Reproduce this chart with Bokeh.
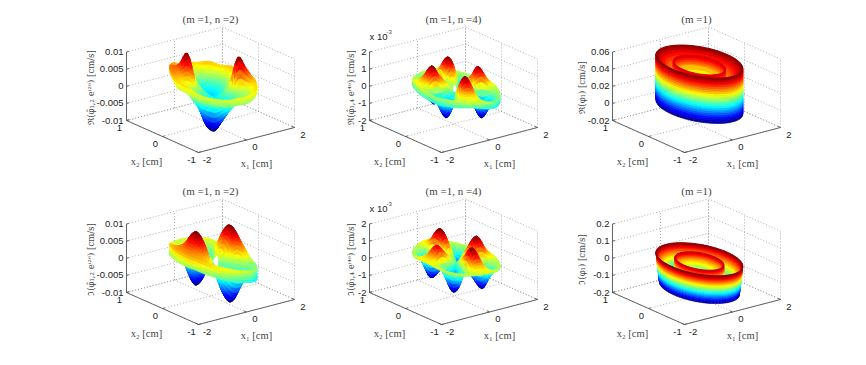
import numpy as np
from bokeh.plotting import figure
from bokeh.models import Range1d, ColumnDataSource
from bokeh.core.properties import value
from bokeh.embed import file_html
from bokeh.resources import INLINE

# ---------- data ----------
THETA_DEG = list(range(0, 360, 15))
X1_TICKS = [-2, 0, 2]
X2_TICKS = [-1, 0, 1]

TITLES = ["(m =1, n =2)", "(m =1, n =4)", "(m =1)"] * 1
Y_LABELS = [
    ["ℜ(φ̂₁,₂ eⁱ²ᶿ) [cm/s]", "ℜ(φ̂₁,₄ eⁱ⁴ᶿ) [cm/s]", "ℜ(φ₁) [cm/s]"],
    ["ℑ(φ̂₁,₂ eⁱ²ᶿ) [cm/s]", "ℑ(φ̂₁,₄ eⁱ⁴ᶿ) [cm/s]", "ℑ(φ₁) [cm/s]"],
]
Z_TICKS = [
    [[-0.01, -0.005, 0, 0.005, 0.01], [-2, -1, 0, 1, 2], [-0.02, 0, 0.02, 0.04, 0.06]],
    [[-0.01, -0.005, 0, 0.005, 0.01], [-2, -1, 0, 1, 2], [-0.2, -0.1, 0, 0.1, 0.2]],
]
Z_LABELS = [
    [["-0.01", "-0.005", "0", "0.005", "0.01"], ["-2", "-1", "0", "1", "2"], ["-0.02", "0", "0.02", "0.04", "0.06"]],
    [["-0.01", "-0.005", "0", "0.005", "0.01"], ["-2", "-1", "0", "1", "2"], ["-0.2", "-0.1", "0", "0.1", "0.2"]],
]

# real part, n=2 (1e-3 cm/s): radius rows, 24 angles each
R_12 = [0.02, 0.4, 0.6, 0.8, 1.0, 1.0]
RE_12 = [
    [-3, -3, -3, -3, -3, -3, -2.5, -2.5, -2.5, -2.5, -2.5, -3, -4, -4.5, -4.5, -4.5, -4, -4, -3.5, -3, -3, -3, -3, -3],
    [-1, -2.5, -3, -3.5, -3, -2.5, -2, -1, 0, 1.5, 0, -2, -6, -9, -10, -10, -8, -6, -4, -3, -2, -1, 1, 0],
    [1, -1, -2, -2.5, -2.5, -2, -1, 0, 3, 9.5, 5, 0, -3, -6, -8, -8, -6, -4, -2, -1, 0, 2, 9.5, 3],
    [2, 1, 0, 0, 0, 1, 1.5, 2, 3, 6, 4, 1.5, -1, -2, -2, -2, -1, -1, 0, 0, .5, 2, 6.5, 3.5],
    [3, 3.5, 3, 3.5, 3, 3, 3, 4, 4.5, 5, 4.5, 3, 3, 2, 1.5, 1.5, 1.5, 2, 2, 2.5, 3, 3, 3.5, 3],
    [1, 1.5, 1, 1.5, 1, 1, 1, 2, 2.5, 3, 2.5, 1, 1, 0, -.5, -.5, -.5, 0, 0, .5, 1, 1, 1.5, 1],
]
# real part, n=4 (1e-3 cm/s)
R_14 = [0.12, 0.45, 0.6, 0.8, 1.0, 1.0]
RE_14 = [
    [0, -.1, -.1, .1, .1, .1, -.1, -.1, 0, .1, .1, .1, -.1, -.1, -.1, .1, .1, .1, 0, -.1, -.1, -.1, .1, .1],
    [0, -.7, -.6, .5, .85, .4, -.6, -.85, -.3, .5, .85, .4, -.45, -.85, -.45, .45, .85, .45, -.25, -.7, -.85, -.4, .5, .8],
    [0, -1.1, -.9, .8, 1.3, .6, -.9, -1.3, -.4, .8, 1.3, .6, -.7, -1.3, -.7, .7, 1.3, .7, -.4, -1.1, -1.3, -.6, .8, 1.2],
    [.05, -.45, -.35, .4, .65, .3, -.35, -.55, -.15, .4, .65, .3, -.25, -.55, -.25, .35, .65, .35, -.15, -.45, -.55, -.25, .4, .6],
    [.15, .1, .15, .2, .25, .2, .15, .1, .15, .2, .25, .2, .15, .1, .15, .2, .25, .2, .1, .05, .05, .1, .15, .2],
    [-.25, -.3, -.25, -.2, -.15, -.2, -.25, -.3, -.25, -.2, -.15, -.2, -.25, -.3, -.25, -.2, -.15, -.2, -.3, -.35, -.35, -.3, -.25, -.2],
]
# imaginary part, n=2 (1e-3 cm/s)
R_I12 = [0.12, 0.42, 0.55, 0.75, 1.0, 1.0]
IM_12 = [
    [1.4, 1.1, .5, -.3, -.9, -1.3, -1.4, -1.1, -.5, .3, .9, 1.3, 1.4, 1.1, .5, -.3, -.9, -1.3, -1.4, -1.1, -.5, .3, .9, 1.3],
    [5.6, 4.4, 1.9, -1, -3.7, -5.3, -5.6, -4.4, -1.9, 1, 3.7, 5.3, 5.6, 4.4, 1.9, -1, -3.7, -5.3, -5.6, -4.4, -1.9, 1, 3.7, 5.3],
    [9.4, 7.3, 3.2, -1.6, -6.1, -8.9, -9.4, -7.3, -3.2, 1.6, 6.1, 8.9, 9.4, 7.3, 3.2, -1.6, -6.1, -8.9, -9.4, -7.3, -3.2, 1.6, 6.1, 8.9],
    [6, 5, 3, 0, -2, -4, -4.5, -3, -1, 2, 4.5, 6, 6.5, 5, 3, 0, -2, -4, -4.5, -3.5, -1.5, 1, 4, 5.5],
    [0, .5, 1, 2, 2, 2, 2, 2, 2.5, 3.5, 4, 4, 4, 4, 3.5, 3, 2.5, 2, 1.5, 1, .5, 0, 0, 0],
    [-3.5, -3, -2.5, -1.5, -1.5, -1.5, -1.5, -1.5, -1, 0, .5, .5, .5, .5, 0, -.5, -1, -1.5, -2, -2.5, -3, -3.5, -3.5, -3.5],
]
# imaginary part, n=4 (1e-3 cm/s)
R_I14 = [0.02, 0.35, 0.6, 0.8, 1.0, 1.0]
IM_14 = [
    [-.1, -.2, -.2, -.2, -.1, -.1, -.1, -.2, -.2, -.2, -.1, -.1, -.1, -.2, -.2, -.2, -.1, -.1, -.1, -.2, -.2, -.2, -.1, -.1],
    [.5, 0, -.55, -.35, .3, .7, .6, -.1, -.65, -.55, .05, .55, .45, -.3, -.7, -.55, .15, .7, .5, -.3, -.7, -.35, .3, .7],
    [1.0, 0, -1, -.6, .6, 1.3, 1.1, -.2, -1.2, -1, .1, 1.0, .8, -.5, -1.3, -1, .3, 1.3, .9, -.5, -1.3, -.6, .6, 1.3],
    [.55, .1, -.3, -.15, .35, .65, .55, 0, -.4, -.3, .15, .55, .45, -.1, -.45, -.35, .25, .65, .5, -.1, -.45, -.15, .35, .65],
    [.25, .2, .15, .2, .25, .3, .3, .2, .15, .15, .2, .3, .35, .25, .15, .15, .2, .25, .25, .2, .15, .15, .2, .25],
    [.13, .08, .03, .08, .13, .18, .18, .08, .03, .03, .08, .18, .23, .13, .03, .03, .08, .13, .13, .08, .03, .03, .08, .13],
]
# m=1 axisymmetric profiles
PROF_RE_R = [1.0, 1.0, 0.92, 0.8, 0.68, 0.61, 0.6, 0.54, 0.3, 0.0]
PROF_RE_Z = [-0.001, 0.052, 0.048, 0.044, 0.040, 0.038, 0.048, 0.037, 0.031, 0.029]
PROF_IM_R = [0.92, 1.0, 0.95, 0.85, 0.7, 0.57, 0.56, 0.54, 0.25, 0.0]
PROF_IM_Z = [-0.16, 0.01, -0.02, -0.05, -0.08, -0.11, 0.0, -0.03, -0.085, -0.09]

# ---------- layout of one 3-D box (pixels) ----------
FRONT = np.array([200.0, 152.0])
DX1 = np.array([96.0, -25.0])
DX2 = np.array([-72.0, -32.0])
DZ = np.array([0.0, -68.5])
OFF_X = [0, 243, 486]
OFF_Y = [0, 172]
RING_A = 1.15
RING_B = 0.93
RING_X1 = 0.12

p = figure(width=850, height=349, x_range=Range1d(2, 852), y_range=Range1d(349, 0),
           x_axis_type=None, y_axis_type=None, toolbar_location=None, output_backend="svg",
           min_border=0, outline_line_color=None, background_fill_color="white")
p.grid.visible = False


def jet(t):
    t = min(max(t, 0.0), 1.0)
    r = min(max(min(4 * t - 1.5, -4 * t + 4.5), 0), 1)
    g = min(max(min(4 * t - 0.5, -4 * t + 3.5), 0), 1)
    b = min(max(min(4 * t + 0.5, -4 * t + 2.5), 0), 1)
    return "#%02x%02x%02x" % (int(r * 255), int(g * 255), int(b * 255))


def project(x1, x2, z, zr, ox, oy):
    u = (np.asarray(x1, float) + 2) / 4
    v = (np.asarray(x2, float) + 1) / 2
    w = (np.asarray(z, float) - zr[0]) / (zr[1] - zr[0])
    sx = FRONT[0] + ox + u * DX1[0] + v * DX2[0] + w * DZ[0]
    sy = FRONT[1] + oy + u * DX1[1] + v * DX2[1] + w * DZ[1]
    d = -0.53 * u - 0.69 * v + 0.5 * w
    return sx, sy, d


def cr(a, b, c, d, t):
    return 0.5 * (2 * b + (c - a) * t + (2 * a - 5 * b + 4 * c - d) * t ** 2 + (3 * b - a - 3 * c + d) * t ** 3)


def draw_mesh(R, TH, Z, zr, cr_range, ox, oy):
    X1 = RING_X1 + RING_A * R * np.cos(TH)
    X2 = RING_B * R * np.sin(TH)
    sx, sy, d = project(X1, X2, Z, zr, ox, oy)
    quads = []
    for i in range(Z.shape[0] - 1):
        for j in range(Z.shape[1] - 1):
            dm = (d[i, j] + d[i + 1, j] + d[i, j + 1] + d[i + 1, j + 1]) / 4
            zm = (Z[i, j] + Z[i + 1, j] + Z[i, j + 1] + Z[i + 1, j + 1]) / 4
            quads.append((dm, i, j, zm))
    quads.sort(key=lambda q: q[0])
    xs, ys, cs = [], [], []
    for _, i, j, zm in quads:
        xs.append([sx[i, j], sx[i + 1, j], sx[i + 1, j + 1], sx[i, j + 1]])
        ys.append([sy[i, j], sy[i + 1, j], sy[i + 1, j + 1], sy[i, j + 1]])
        cs.append(jet((zm - cr_range[0]) / (cr_range[1] - cr_range[0])))
    p.patches(xs, ys, fill_color=cs, line_color=cs, line_width=0.6)


def surface_table(radii, table, scale, zr, ox, oy, sub_t=4, sub_r=4):
    T = np.array(table, float) * scale
    n_r, n_t = T.shape
    # shade along the angle (periodic)
    fine_t = np.arange(0, n_t * sub_t + 1) / sub_t
    rows = np.zeros((n_r, len(fine_t)))
    for i in range(n_r):
        for k, s in enumerate(fine_t):
            j = int(np.floor(s)) % n_t
            f = s - np.floor(s)
            rows[i, k] = cr(T[i, (j - 1) % n_t], T[i, j], T[i, (j + 1) % n_t], T[i, (j + 2) % n_t], f)
    # shade along the radius; the last pair of rows is the rim's wall
    rr, zz = [], []
    for i in range(n_r - 1):
        for q in range(sub_r):
            f = q / sub_r
            rr.append(radii[i] + (radii[i + 1] - radii[i]) * f)
            if i == n_r - 2:
                zz.append(rows[i] + (rows[i + 1] - rows[i]) * f)
            else:
                a = rows[max(i - 1, 0)]
                b = rows[i]
                c = rows[i + 1]
                e = rows[min(i + 2, n_r - 2)]
                zz.append(cr(a, b, c, e, f))
    rr.append(radii[-1])
    zz.append(rows[-1])
    Z = np.array(zz)
    TH = np.radians(fine_t * 15.0)
    R = np.repeat(np.array(rr)[:, None], len(fine_t), axis=1)
    TH2 = np.repeat(TH[None, :], len(rr), axis=0)
    draw_mesh(R, TH2, Z, zr, (T.min(), T.max()), ox, oy)


def surface_profile(pr, pz, zr, ox, oy, n_t=72):
    span = max(pz) - min(pz)
    rr, zz = [], []
    for i in range(len(pr) - 1):
        n = max(2, int(abs(pz[i + 1] - pz[i]) / span * 26))
        for q in range(n):
            f = q / n
            rr.append(pr[i] + (pr[i + 1] - pr[i]) * f)
            zz.append(pz[i] + (pz[i + 1] - pz[i]) * f)
    rr.append(pr[-1])
    zz.append(pz[-1])
    th = np.linspace(0, 2 * np.pi, n_t + 1)
    R = np.repeat(np.array(rr)[:, None], n_t + 1, axis=1)
    Z = np.repeat(np.array(zz)[:, None], n_t + 1, axis=1)
    TH = np.repeat(th[None, :], len(rr), axis=0)
    draw_mesh(R, TH, Z, zr, (min(pz), max(pz)), ox, oy)


def add_text(xs, ys, txt, font, size, color, align="center", base="middle", angle=0.0):
    src = ColumnDataSource(dict(x=xs, y=ys, t=txt))
    p.text("x", "y", text="t", source=src, text_font=value(font), text_font_size=size,
           text_color=color, text_align=align, text_baseline=base, angle=angle)


def draw_box(zt, zl, ox, oy):
    zr = (zt[0], zt[-1])
    gx, gy = [], []

    def seg(a, b):
        s0 = project(*a, zr, ox, oy)
        s1 = project(*b, zr, ox, oy)
        gx.append([float(s0[0]), float(s1[0])])
        gy.append([float(s0[1]), float(s1[1])])

    for z in zt:
        seg((-2, 1, z), (2, 1, z))
        seg((2, 1, z), (2, -1, z))
    for x in X1_TICKS:
        seg((x, -1, zr[0]), (x, 1, zr[0]))
        seg((x, 1, zr[0]), (x, 1, zr[1]))
    for x in X2_TICKS:
        seg((-2, x, zr[0]), (2, x, zr[0]))
        seg((2, x, zr[0]), (2, x, zr[1]))
    p.multi_line(gx, gy, line_color="#8c8c8c", line_width=0.7, line_dash="1 2")

    ax, ay = [], []
    for a, b in [((-2, 1, zr[0]), (-2, 1, zr[1])),
                 ((-2, 1, zr[0]), (-2, -1, zr[0])),
                 ((-2, -1, zr[0]), (2, -1, zr[0]))]:
        s0 = project(*a, zr, ox, oy)
        s1 = project(*b, zr, ox, oy)
        ax.append([float(s0[0]), float(s1[0])])
        ay.append([float(s0[1]), float(s1[1])])
    for z in zt:
        s0 = project(-2, 1, z, zr, ox, oy)
        s1 = project(-1.9, 1, z, zr, ox, oy)
        ax.append([float(s0[0]), float(s1[0])])
        ay.append([float(s0[1]), float(s1[1])])
    for x in X1_TICKS:
        s0 = project(x, -1, zr[0], zr, ox, oy)
        s1 = project(x, -0.93, zr[0], zr, ox, oy)
        ax.append([float(s0[0]), float(s1[0])])
        ay.append([float(s0[1]), float(s1[1])])
    for x in X2_TICKS:
        s0 = project(-2, x, zr[0], zr, ox, oy)
        s1 = project(-1.9, x, zr[0], zr, ox, oy)
        ax.append([float(s0[0]), float(s1[0])])
        ay.append([float(s0[1]), float(s1[1])])
    p.multi_line(ax, ay, line_color="#555555", line_width=0.9)

    # tick labels
    txs, tys = [], []
    for z in zt:
        s = project(-2, 1, z, zr, ox, oy)
        txs.append(float(s[0]) - 3)
        tys.append(float(s[1]))
    add_text(txs, tys, zl, "Liberation Sans", "9.5px", "#222222", align="right")
    lx, ly, lt = [], [], []
    for x in X1_TICKS:
        s = project(x, -1, zr[0], zr, ox, oy)
        lx.append(float(s[0]) + 8.5)
        ly.append(float(s[1]) + 7)
        lt.append(str(x))
    for x in X2_TICKS:
        s = project(-2, x, zr[0], zr, ox, oy)
        lx.append(float(s[0]) - 7)
        ly.append(float(s[1]) + 7)
        lt.append(str(x))
    add_text(lx, ly, lt, "Liberation Sans", "9.5px", "#222222")
    return zr


SURF = [
    [(R_12, RE_12), (R_14, RE_14), (PROF_RE_R, PROF_RE_Z)],
    [(R_I12, IM_12), (R_I14, IM_14), (PROF_IM_R, PROF_IM_Z)],
]
YL_X = [92, 352, 583]
YL_Y = [87, 87, 87]
SCALES = [1e-3, 1, None]

for row in range(2):
    for col in range(3):
        ox, oy = OFF_X[col], OFF_Y[row]
        zr = draw_box(Z_TICKS[row][col], Z_LABELS[row][col], ox, oy)
        a, b = SURF[row][col]
        if col == 2:
            surface_profile(a, b, zr, ox, oy)
        else:
            surface_table(a, b, SCALES[col], zr, ox, oy)
        add_text([212 + ox], [18 + oy], [TITLES[col]], "Liberation Serif", "11px", "#444444")
        add_text([148 + ox], [161 + oy], ["x₂ [cm]"], "Liberation Serif", "10.5px", "#444444")
        add_text([258 + ox], [163 + oy], ["x₁ [cm]"], "Liberation Serif", "10.5px", "#444444")
        add_text([YL_X[col]], [YL_Y[col] + oy], [Y_LABELS[row][col]], "DejaVu Serif", "8.5px", "#444444",
                 angle=np.pi / 2)
        if col == 1:
            add_text([371], [36 + oy], ["x 10"], "Liberation Sans", "9.5px", "#222222", align="left")
            add_text([388], [31 + oy], ["-3"], "Liberation Sans", "6px", "#444444", align="left")

open("out.html", "w").write(file_html(p, INLINE))
